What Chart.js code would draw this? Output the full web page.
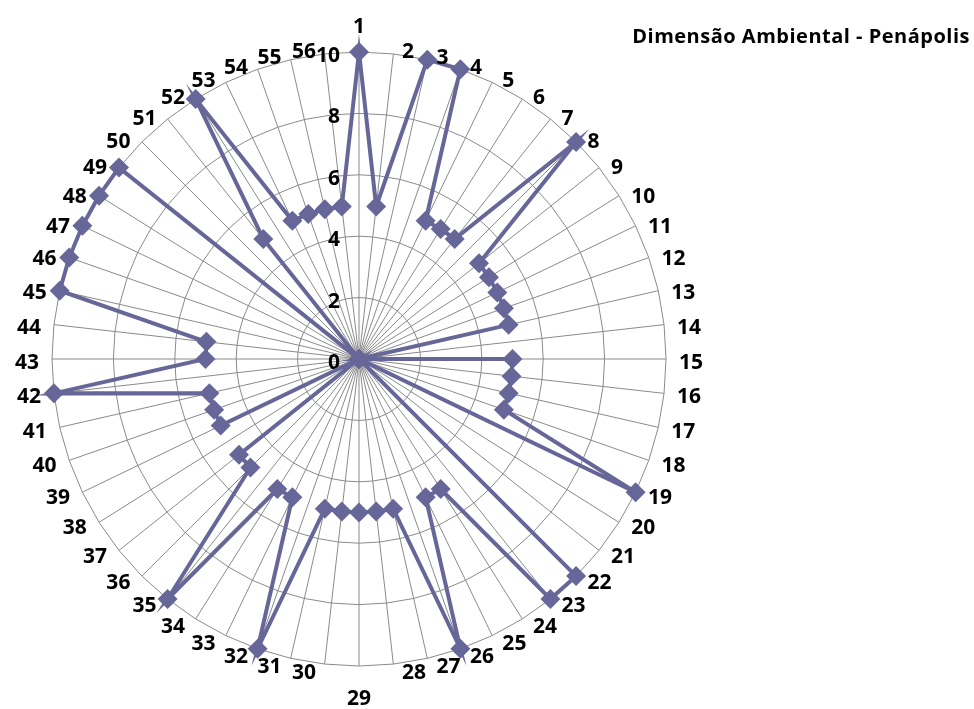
<!DOCTYPE html>
<html>
<head>
<meta charset="utf-8">
<title>Dimensão Ambiental - Penápolis</title>
<script src="https://cdn.jsdelivr.net/npm/chart.js@4/dist/chart.umd.min.js"></script>
<style>
  html, body { margin: 0; padding: 0; background: #ffffff; }
  #wrap { width: 974px; height: 709px; }
</style>
</head>
<body>
<div id="wrap"><canvas id="radar" width="974" height="709"></canvas></div>
<script>
// Indicator numbers around the radar
const categories = ['1','2','3','4','5','6','7','8','9','10','11','12','13','14',
  '15','16','17','18','19','20','21','22','23','24','25','26','27','28',
  '29','30','31','32','33','34','35','36','37','38','39','40','41','42',
  '43','44','45','46','47','48','49','50','51','52','53','54','55','56'];

// Scores for the environmental dimension
const scores = [10,5,10,10,5,5,5,10,5,5,5,5,5,0,
  5,5,5,5,10,0,0,10,10,5,5,10,5,5,
  5,5,5,10,5,5,10,5,5,0,5,5,5,10,
  5,5,10,10,10,10,10,0,5,10,5,5,5,5];

// Radial tick labels
const tickValues = [0, 2, 4, 6, 8, 10];

const chartTitle = 'Dimensão Ambiental - Penápolis';

const LABEL_FONT = 'bold 21px "Open Sans", Lato, sans-serif';
const SERIES_COLOR = '#666699';
const GRID_COLOR = '#8a8a8a';

// Value labels drawn just left of the vertical axis
const tickLabelPlugin = {
  id: 'tickLabelsLeft',
  beforeDatasetsDraw(chart) {
    const s = chart.scales.r;
    const ctx = chart.ctx;
    ctx.save();
    ctx.font = LABEL_FONT;
    ctx.fillStyle = '#000000';
    ctx.textAlign = 'right';
    ctx.textBaseline = 'alphabetic';
    tickValues.forEach(v => {
      const d = s.getDistanceFromCenterForValue(v);
      ctx.fillText(String(v), s.xCenter - 19, s.yCenter - d + 10);
    });
    ctx.restore();
  }
};

// Category labels placed outside the outer ring
const pointLabelPlugin = {
  id: 'pointLabelsOutside',
  afterDatasetsDraw(chart) {
    const s = chart.scales.r;
    const ctx = chart.ctx;
    const n = categories.length;
    const dist = s.drawingArea + 5;
    ctx.save();
    ctx.font = LABEL_FONT;
    ctx.fillStyle = '#000000';
    ctx.textBaseline = 'alphabetic';
    categories.forEach((lab, i) => {
      const p = s.getPointPosition(i, dist);
      const deg = i * 360 / n;
      let x = p.x, y = p.y;
      if (deg === 0) {
        ctx.textAlign = 'center'; y -= 14;
      } else if (deg === 180) {
        ctx.textAlign = 'center'; y += 34;
      } else if (deg < 180) {
        ctx.textAlign = 'left'; x += 8; y += 9.5;
      } else {
        ctx.textAlign = 'right'; x -= 8; y += 9.5;
      }
      ctx.fillText(lab, x, y);
    });
    ctx.restore();
  }
};

// Title in the upper right corner
const titlePlugin = {
  id: 'cornerTitle',
  afterDraw(chart) {
    const ctx = chart.ctx;
    ctx.save();
    ctx.font = 'bold 20px "Open Sans", Lato, sans-serif';
    if ('letterSpacing' in ctx) ctx.letterSpacing = '0.5px';
    ctx.fillStyle = '#000000';
    ctx.textAlign = 'right';
    ctx.textBaseline = 'alphabetic';
    ctx.fillText(chartTitle, 970, 43);
    ctx.restore();
  }
};

new Chart(document.getElementById('radar'), {
  type: 'radar',
  data: {
    labels: categories,
    datasets: [{
      label: chartTitle,
      data: scores,
      borderColor: SERIES_COLOR,
      backgroundColor: SERIES_COLOR,
      borderWidth: 4,
      fill: false,
      tension: 0,
      pointStyle: 'rectRot',
      pointRadius: 10,
      pointHoverRadius: 10,
      pointBackgroundColor: SERIES_COLOR,
      pointBorderColor: SERIES_COLOR,
      pointBorderWidth: 0
    }]
  },
  options: {
    responsive: false,
    animation: false,
    layout: { padding: { left: 0, right: 256, top: 52, bottom: 43 } },
    plugins: {
      legend: { display: false },
      title: { display: false },
      tooltip: { enabled: false }
    },
    scales: {
      r: {
        min: 0,
        max: 10,
        ticks: { stepSize: 2, display: false },
        pointLabels: { display: false },
        grid: { color: GRID_COLOR, lineWidth: 1, circular: false },
        angleLines: { color: GRID_COLOR, lineWidth: 1 }
      }
    }
  },
  plugins: [tickLabelPlugin, pointLabelPlugin, titlePlugin]
});
</script>
</body>
</html>
